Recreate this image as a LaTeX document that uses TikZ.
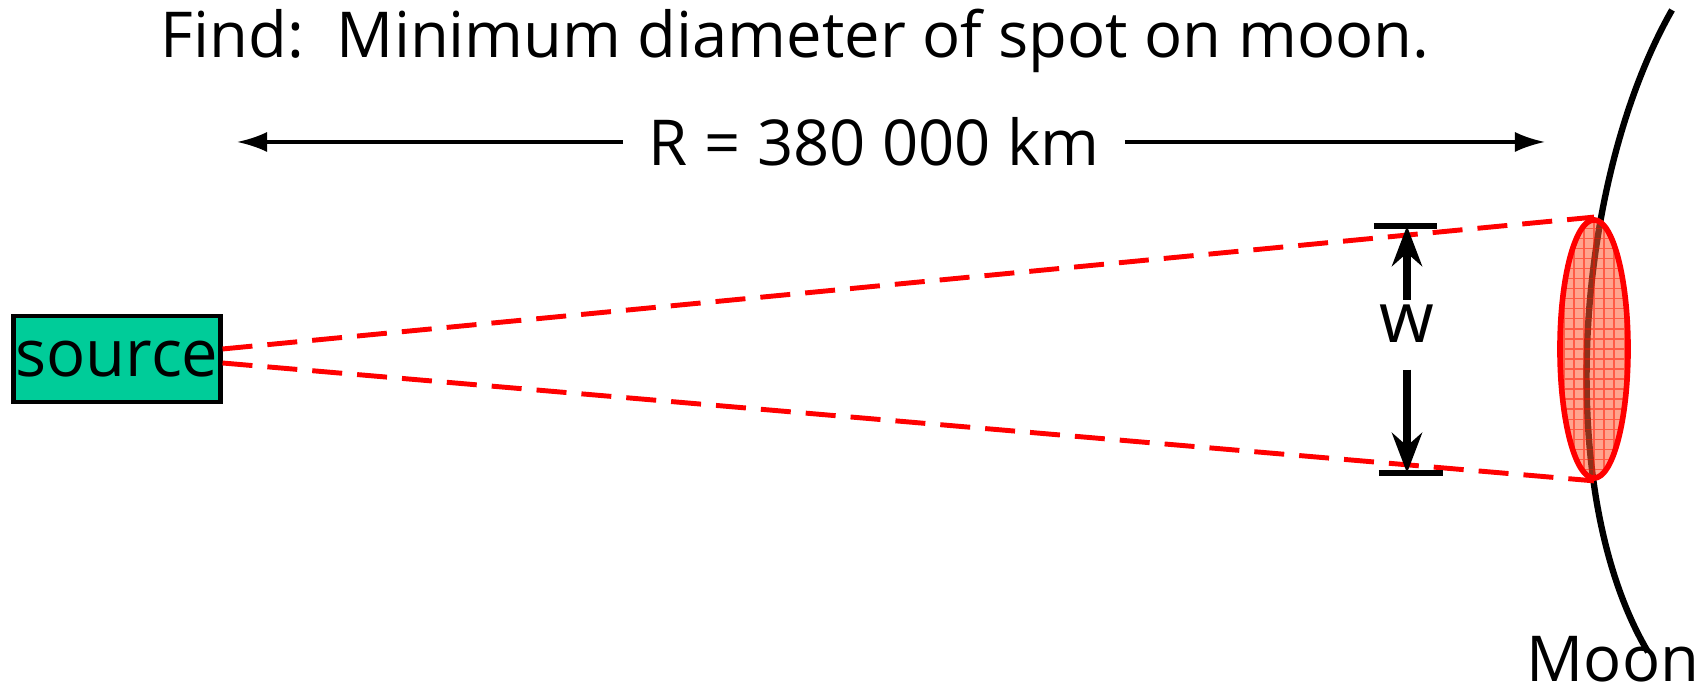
\documentclass[tikz,border=0pt]{standalone}
\usepackage{fontspec}
\setmainfont{Open Sans}
\usepackage{xcolor}
\usepackage{tikz}
\usetikzlibrary{arrows.meta}
\usetikzlibrary{positioning, shapes.geometric}

\definecolor{srcgreen}{RGB}{0,204,153}
\definecolor{spotfill}{RGB}{255,90,50}

\begin{document}
\begin{tikzpicture}[
    x=0.01cm, y=-0.01cm,
    every node/.style={font=\fontsize{18}{22}\selectfont},
    srcbox/.style={rectangle, draw, line width=1.4pt, fill=srcgreen, minimum width=2.06cm, minimum height=0.86cm, inner sep=0, font=\fontsize{18.5}{22}\selectfont},
    spotshape/.style={ellipse, draw=red, line width=1.6pt, fill=spotfill, fill opacity=0.55, draw opacity=1, minimum width=0.68cm, minimum height=2.58cm, inner sep=0,
        path picture={
            \draw[red!85!orange, line width=0.3pt, opacity=0.5]
                (path picture bounding box.south west) grid[step=0.1cm] (path picture bounding box.north east);
        }},
    beam/.style={draw=red, line width=1.4pt, dash pattern=on 0.3cm off 0.15cm},
    dist arrow/.style={draw, line width=0.9pt, -{Latex[length=3mm, width=2mm]}},
    dim arrow/.style={draw, line width=2pt, -{Stealth[length=4mm, width=3mm]}},
    dim bar/.style={draw, line width=1.8pt},
]
\useasboundingbox (0,0) rectangle (1708,692);

\node (title) at (795,41) {Find:\ \ Minimum diameter of spot on moon.};

% distance to the moon
\node[inner xsep=0.25cm] (dist) at (874,142) {R = 380 000 km};
\coordinate (distL) at (237,142);
\coordinate (distR) at (1545,142);
\draw[dist arrow] (dist.west) -- (distL);
\draw[dist arrow] (dist.east) -- (distR);

% moon surface
\draw[line width=1.8pt] (1672,10) .. controls (1575,180) and (1552,490) .. (1648,652);
\node[anchor=base east, inner sep=0] (moon) at (1700,682) {Moon};

\node[srcbox] (source) at (117,359) {source};
\node[spotshape] (spot) at (1594,349) {};

% beam edges
\draw[beam] ([yshift=0.10cm]source.east) -- (spot.north);
\draw[beam] ([yshift=-0.04cm]source.east) -- (spot.south);

% spot width
\coordinate (wtop) at (1407,226);
\coordinate (wbot) at (1407,473);
\node[anchor=base, inner xsep=0, inner ysep=0.05cm, text depth=0.21cm, font=\fontsize{20}{24}\selectfont] (w) at (1407,343) {w};
\draw[dim arrow] (w.north) -- (wtop);
\draw[dim arrow] (w.south) -- (wbot);
\draw[dim bar] ([xshift=-0.33cm]wtop) -- ([xshift=0.30cm]wtop);
\draw[dim bar] ([xshift=-0.28cm]wbot) -- ([xshift=0.36cm]wbot);

\end{tikzpicture}
\end{document}
